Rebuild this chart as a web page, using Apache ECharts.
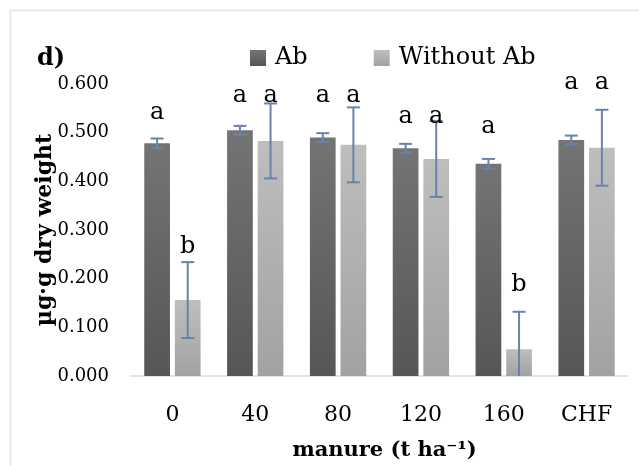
<!DOCTYPE html>
<html>
<head>
<meta charset="utf-8">
<script src="https://cdn.jsdelivr.net/npm/echarts@6/dist/echarts.min.js"></script>
<style>
html,body{margin:0;padding:0;background:#fff;}
#chart{width:639px;height:466px;}
</style>
</head>
<body>
<div id="chart"></div>
<script>
var categories = ['0', '40', '80', '120', '160', 'CHF'];
var seriesNames = ['Ab', 'Without Ab'];
var abValues = [0.478, 0.505, 0.490, 0.468, 0.436, 0.485];
var abErrors = [0.010, 0.009, 0.009, 0.009, 0.010, 0.009];
var withoutValues = [0.156, 0.483, 0.475, 0.446, 0.055, 0.469];
var withoutErrors = [0.078, 0.077, 0.077, 0.078, 0.077, 0.078];
var abLetters = ['a', 'a', 'a', 'a', 'a', 'a'];
var withoutLetters = ['b', 'a', 'a', 'a', 'b', 'a'];
var abLetterLevels = [0.526, 0.561, 0.561, 0.519, 0.497, 0.589];
var withoutLetterLevels = [0.251, 0.561, 0.561, 0.519, 0.173, 0.589];
var yTicks = [0, 0.1, 0.2, 0.3, 0.4, 0.5, 0.6];

var FONT = 'DejaVu Serif';
var CAT_GAP = 0.32, BAR_GAP = 0.19;

function barOffset(bandWidth, s) {
  var bw = bandWidth * (1 - CAT_GAP) / (2 + BAR_GAP);
  var step = bw * (1 + BAR_GAP);
  return (s === 0 ? -1 : 1) * step / 2;
}

var errData = [];
var letterData = [];
for (var i = 0; i < categories.length; i++) {
  errData.push([i, abValues[i], abErrors[i], 0]);
  errData.push([i, withoutValues[i], withoutErrors[i], 1]);
  letterData.push([i, abLetterLevels[i], 0, abLetters[i]]);
  letterData.push([i, withoutLetterLevels[i], 1, withoutLetters[i]]);
}

function grad(top, bottom) {
  return new echarts.graphic.LinearGradient(0, 0, 0, 1, [
    {offset: 0, color: top}, {offset: 1, color: bottom}
  ]);
}

var chart = echarts.init(document.getElementById('chart'), null, {renderer: 'canvas'});
chart.setOption({
  animation: false,
  backgroundColor: '#fff',
  graphic: [{
    type: 'rect', silent: true, z: -10,
    shape: {x: 10.5, y: 10.5, width: 700, height: 600},
    style: {fill: 'none', stroke: '#dfe3ea', lineWidth: 1.5}
  }, {
    type: 'text', left: 37, top: 47,
    style: {text: 'd)', font: 'bold 24px "DejaVu Serif"', fill: '#000'}
  }],
  legend: {
    left: 250, top: 46, padding: 0, itemWidth: 16, itemHeight: 16, itemGap: 66,
    icon: 'rect',
    textStyle: {fontFamily: FONT, fontSize: 24, color: '#000', padding: [0, 0, 0, 4]},
    data: seriesNames
  },
  grid: {left: 131, right: 11, top: 84, bottom: 90, containLabel: false},
  xAxis: {
    type: 'category', data: categories,
    axisLine: {lineStyle: {color: '#d8dce3', width: 1.5}},
    axisTick: {show: false},
    axisLabel: {fontFamily: FONT, fontSize: 22, color: '#000', margin: 28},
    name: 'manure (t ha\u207B\u00B9)', nameLocation: 'middle', nameGap: 64,
    nameMoveOverlap: false,
    nameTextStyle: {fontFamily: FONT, fontSize: 21, fontWeight: 'bold', color: '#000', padding: [0, 0, 0, 10]}
  },
  yAxis: {
    type: 'value', min: yTicks[0], max: yTicks[yTicks.length - 1], interval: 0.1,
    axisLine: {show: false}, axisTick: {show: false}, splitLine: {show: false},
    axisLabel: {fontFamily: FONT, fontSize: 18, color: '#000', margin: 22,
      formatter: function (v) { return v.toFixed(3); }},
    name: '\u00B5g\u00B7g dry weight', nameLocation: 'middle', nameGap: 75,
    nameMoveOverlap: false,
    nameTextStyle: {fontFamily: FONT, fontSize: 22, fontWeight: 'bold', color: '#000'}
  },
  series: [{
    name: seriesNames[0], type: 'bar', data: abValues,
    barCategoryGap: (CAT_GAP * 100) + '%', barGap: (BAR_GAP * 100) + '%',
    itemStyle: {color: grad('#747474', '#565656')}
  }, {
    name: seriesNames[1], type: 'bar', data: withoutValues,
    barCategoryGap: (CAT_GAP * 100) + '%', barGap: (BAR_GAP * 100) + '%',
    itemStyle: {color: grad('#bebebe', '#a2a2a2')}
  }, {
    type: 'custom', data: errData, z: 10,
    renderItem: function (params, api) {
      var cat = api.value(0), v = api.value(1), e = api.value(2), s = api.value(3);
      var band = api.size([1, 0])[0];
      var off = barOffset(band, s);
      var top = api.coord([cat, v + e]);
      var lowVal = Math.max(0, v - e);
      var bot = api.coord([cat, lowVal]);
      var x = top[0] + off;
      var half = 6.5;
      var st = {stroke: '#6883aa', lineWidth: 2};
      var children = [
        {type: 'line', shape: {x1: x, y1: top[1], x2: x, y2: bot[1]}, style: st},
        {type: 'line', shape: {x1: x - half, y1: top[1], x2: x + half, y2: top[1]}, style: st}
      ];
      if (v - e > 0) {
        children.push({type: 'line', shape: {x1: x - half, y1: bot[1], x2: x + half, y2: bot[1]}, style: st});
      }
      return {type: 'group', children: children};
    }
  }, {
    type: 'custom', data: letterData, z: 11,
    renderItem: function (params, api) {
      var cat = api.value(0), lvl = api.value(1), s = api.value(2);
      var band = api.size([1, 0])[0];
      var p = api.coord([cat, lvl]);
      return {
        type: 'text',
        style: {
          x: p[0] + barOffset(band, s), y: p[1] + 5,
          text: letterData[params.dataIndex][3],
          font: '24px "DejaVu Serif"', fill: '#000',
          align: 'center', verticalAlign: 'bottom'
        }
      };
    }
  }]
});
</script>
</body>
</html>
